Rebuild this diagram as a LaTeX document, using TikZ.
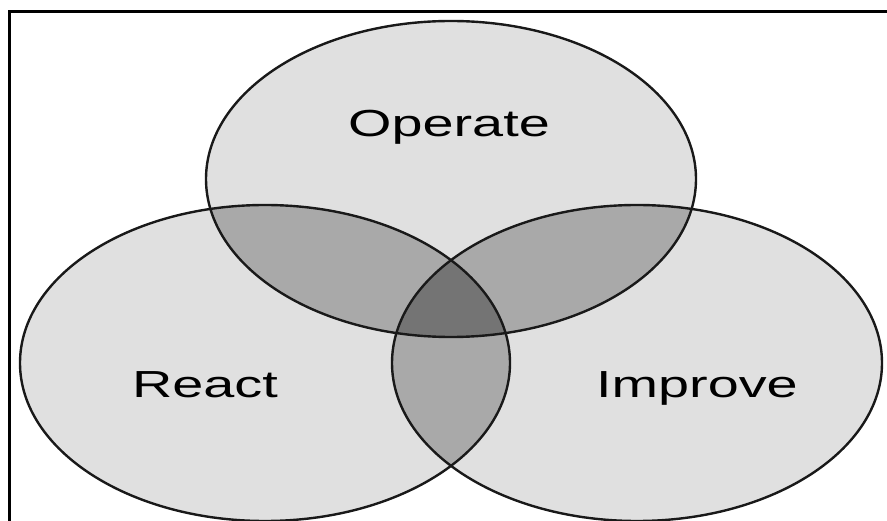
\documentclass[tikz,border=0pt]{standalone}
\usepackage{fontspec}
\setmainfont{Liberation Sans}
\usepackage{graphicx}
\definecolor{lightfill}{HTML}{E0E0E0}
\definecolor{midfill}{HTML}{A9A9A9}
\definecolor{darkfill}{HTML}{747474}
\tikzset{
  outline/.style={draw=black!90, line width=2.4pt},
  label/.style={font=\fontsize{37.7}{40}\selectfont, anchor=base, text=black, inner sep=0pt},
  frameline/.style={line width=3pt, black}
}
\begin{document}
\begin{tikzpicture}[x=1pt,y=-1pt]
\useasboundingbox (0,0) rectangle (887,521);
\fill[white] (0,0) rectangle (887,521);
% base fills
\fill[lightfill] (451,179) ellipse [x radius=245pt, y radius=158pt];
\fill[lightfill] (265,363) ellipse [x radius=245pt, y radius=158pt];
\fill[lightfill] (637,363) ellipse [x radius=245pt, y radius=158pt];
% pairwise overlaps
\begin{scope}
  \clip (451,179) ellipse [x radius=245pt, y radius=158pt];
  \fill[midfill] (265,363) ellipse [x radius=245pt, y radius=158pt];
  \fill[midfill] (637,363) ellipse [x radius=245pt, y radius=158pt];
\end{scope}
\begin{scope}
  \clip (265,363) ellipse [x radius=245pt, y radius=158pt];
  \fill[midfill] (637,363) ellipse [x radius=245pt, y radius=158pt];
\end{scope}
% triple overlap
\begin{scope}
  \clip (451,179) ellipse [x radius=245pt, y radius=158pt];
  \clip (265,363) ellipse [x radius=245pt, y radius=158pt];
  \fill[darkfill] (637,363) ellipse [x radius=245pt, y radius=158pt];
\end{scope}
% outlines
\draw[outline] (451,179) ellipse [x radius=245pt, y radius=158pt];
\draw[outline] (265,363) ellipse [x radius=245pt, y radius=158pt];
\draw[outline] (637,363) ellipse [x radius=245pt, y radius=158pt];
% frame
\draw[frameline] (9.5,522) -- (9.5,11.5) -- (888,11.5);
% labels
\node[label] (operate) at (449,137) {\scalebox{1.48}[1]{Operate}};
\node[label] (react) at (205,398) {\scalebox{1.48}[1]{React}};
\node[label] (improve) at (697,398) {\scalebox{1.48}[1]{Improve}};
\end{tikzpicture}
\end{document}
